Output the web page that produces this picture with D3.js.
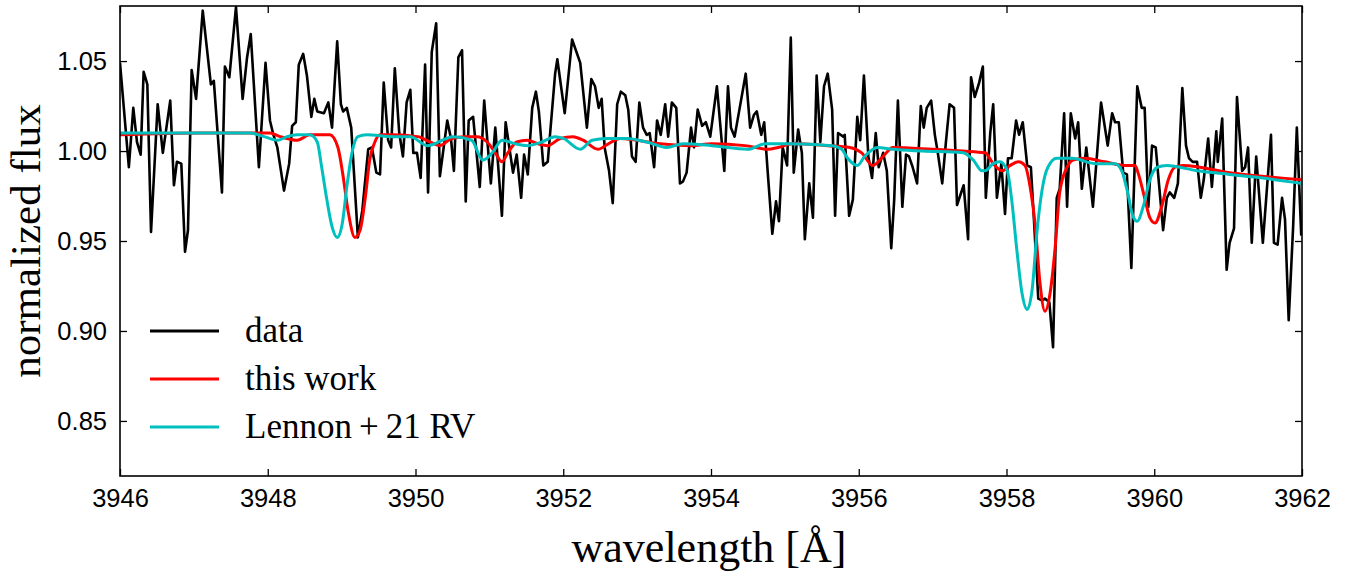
<!DOCTYPE html>
<html>
<head>
<style>
    body { margin: 0; background: #fff; }
    .tick-label { font-family: "Liberation Sans", Arial, sans-serif; font-size: 25.5px; }
    .serif { font-family: "Liberation Serif", "DejaVu Serif", serif; }
</style>
<script src="https://d3js.org/d3.v7.min.js"></script>
</head>
<body>
<svg width="1349" height="574"></svg>
<script>
    // observed spectrum (wavelength in A, normalized flux)
    var dataWave = [3946.00,3946.12,3946.18,3946.23,3946.28,3946.32,3946.37,3946.42,3946.51,3946.58,3946.68,3946.73,3946.77,3946.83,3946.88,3946.92,3946.97,3947.03,3947.12,3947.23,3947.27,3947.38,3947.42,3947.48,3947.57,3947.66,3947.72,3947.77,3947.88,3947.97,
        3948.03,3948.07,3948.13,3948.22,3948.29,3948.33,3948.38,3948.42,3948.48,3948.53,3948.59,3948.63,3948.67,3948.76,3948.82,3948.87,3948.94,3948.99,3949.02,3949.07,3949.13,3949.22,3949.28,3949.36,3949.41,3949.47,3949.52,3949.57,3949.63,3949.67,3949.72,3949.78,3949.83,3949.88,3949.93,
        3949.97,3950.02,3950.07,3950.13,3950.17,3950.22,3950.28,3950.33,3950.43,3950.48,3950.52,3950.58,3950.63,3950.68,3950.72,3950.78,3950.87,3950.93,3950.97,3951.02,3951.08,3951.17,3951.22,3951.32,3951.37,3951.43,3951.47,3951.52,3951.58,3951.63,3951.67,3951.73,3951.79,3951.89,
        3951.92,3952.02,3952.12,3952.23,3952.32,3952.38,3952.43,3952.48,3952.52,3952.56,3952.62,3952.67,3952.73,3952.78,3952.84,3952.88,3952.93,3952.98,3953.03,3953.08,3953.13,3953.17,3953.23,3953.27,3953.32,3953.38,3953.42,3953.47,3953.53,3953.58,3953.62,3953.67,3953.73,3953.77,3953.82,
        3953.88,3953.93,3953.99,3954.08,3954.18,3954.23,3954.27,3954.32,3954.47,3954.53,3954.58,3954.62,3954.68,3954.72,3954.77,3954.83,3954.88,3954.92,3954.97,3955.03,3955.08,3955.12,3955.18,3955.23,3955.27,3955.33,3955.38,3955.43,3955.48,3955.53,3955.58,3955.64,3955.68,3955.72,3955.79,
        3955.81,3955.87,3955.92,3955.98,3956.02,3956.07,3956.13,3956.18,3956.23,3956.27,3956.33,3956.38,3956.44,3956.48,3956.53,3956.59,3956.64,3956.68,3956.73,3956.79,3956.84,3956.88,3956.92,3956.98,3957.03,3957.07,3957.13,3957.18,3957.23,3957.29,3957.33,3957.42,3957.48,3957.52,3957.57,3957.63,3957.68,3957.72,3957.78,
        3957.82,3957.87,3957.93,3957.98,3958.02,3958.07,3958.13,3958.17,3958.22,3958.28,3958.33,3958.37,3958.43,3958.48,3958.52,3958.58,3958.63,3958.68,3958.72,3958.78,3958.82,3958.87,3958.93,3958.97,3959.02,3959.08,3959.17,3959.28,3959.37,3959.43,3959.47,3959.52,3959.58,3959.63,3959.69,
        3959.77,3959.83,3959.87,3959.92,3959.97,3960.02,3960.12,3960.17,3960.21,3960.27,3960.32,3960.38,3960.43,3960.47,3960.52,3960.58,3960.63,3960.67,3960.73,3960.78,3960.84,3960.86,3960.92,3960.98,3961.02,3961.08,3961.12,3961.19,3961.23,3961.27,3961.32,3961.38,3961.47,3961.58,3961.62,3961.67,3961.73,3961.77,3961.82,3961.88,3961.93,3961.99];
    var dataFlux = [1.049,0.991,1.024,1.005,0.998,1.044,1.037,0.955,1.026,0.999,1.028,0.981,0.994,0.993,0.944,0.956,1.045,1.029,1.078,1.037,1.039,0.977,1.047,1.041,1.080,1.029,1.052,1.065,0.991,1.049,
        1.017,1.010,1.002,0.978,0.993,1.014,1.016,1.048,1.054,1.042,1.019,1.029,1.022,1.021,1.027,1.013,1.061,1.026,1.022,1.024,1.013,0.952,0.967,1.001,1.002,0.988,0.987,1.038,1.006,1.002,1.046,1.010,0.997,1.027,1.034,
        0.999,0.999,0.985,1.048,0.977,1.055,1.071,0.986,1.017,1.007,0.989,1.052,1.056,0.972,1.017,1.019,0.980,1.028,1.007,0.982,1.013,0.964,1.016,0.988,0.998,0.974,0.998,0.987,1.024,1.033,1.022,0.992,0.994,1.043,
        1.051,1.021,1.062,1.049,1.013,1.040,1.036,1.024,1.029,1.002,0.989,0.971,1.026,1.033,1.031,1.023,0.997,0.994,1.027,1.013,1.009,1.010,0.991,1.017,1.009,1.026,1.008,1.027,1.024,0.982,0.983,0.988,1.013,1.002,1.023,
        1.014,1.016,1.008,1.036,0.989,1.036,1.013,1.008,1.043,1.013,1.020,1.022,1.009,1.016,0.987,0.954,0.972,0.961,1.002,0.992,1.063,0.988,1.012,0.999,0.951,0.982,0.963,1.042,1.005,1.036,1.043,1.023,0.964,1.010,1.008,
        1.009,0.964,0.973,1.019,1.006,1.042,0.997,0.985,1.010,0.991,0.999,0.989,0.946,0.973,1.028,0.969,0.998,0.997,0.991,0.982,1.025,1.013,1.024,1.028,1.009,0.999,0.982,1.005,1.026,1.024,0.970,0.981,0.951,1.041,1.030,1.038,1.047,0.974,1.010,
        1.026,0.974,0.993,0.965,0.996,0.996,1.017,1.009,1.016,0.992,0.991,0.963,0.918,0.917,0.918,0.916,0.891,0.974,0.979,1.021,0.969,1.021,1.007,1.016,0.979,1.002,0.969,1.027,1.003,1.021,1.016,1.016,0.988,0.987,0.935,
        1.036,1.024,1.024,0.969,1.003,1.002,0.956,0.974,0.977,0.974,0.982,1.035,1.003,0.996,0.994,0.994,0.974,0.984,1.007,0.980,1.011,0.994,1.018,0.934,0.949,0.957,1.030,0.989,0.991,1.002,0.949,0.997,0.949,1.009,0.949,0.948,0.974,0.962,0.906,0.958,1.013,0.953];

    // model: this work
    var workWave = [3946.00,3947.08,3947.90,3948.03,3948.17,3948.40,3948.57,3948.84,3948.95,3949.02,3949.09,3949.18,3949.25,3949.32,3949.38,3949.45,3949.52,3949.70,3950.03,3950.20,3950.33,3950.49,3950.67,3950.83,3950.97,3951.08,3951.17,3951.25,3951.37,3951.51,3951.66,3951.79,3951.96,3952.13,3952.27,3952.47,3952.61,3952.77,3953.00,3953.31,3953.72,3954.01,3954.46,3954.77,3954.91,3955.10,3955.58,3955.88,3956.04,3956.19,3956.33,3956.46,3957.00,3957.41,3957.71,3957.82,3957.94,3958.05,3958.16,3958.25,3958.32,3958.39,3958.45,3958.52,3958.59,3958.66,3958.72,3958.82,3958.90,3959.06,3959.33,3959.60,3959.74,3959.78,3959.87,3959.94,3960.01,3960.10,3960.19,3960.28,3960.39,3961.02,3962.00];
    var workFlux = [1.009,1.010,1.010,1.010,1.008,1.006,1.009,1.009,1.002,0.986,0.966,0.952,0.956,0.974,0.995,1.005,1.009,1.009,1.008,1.005,1.003,1.007,1.008,1.008,1.005,0.999,0.994,0.999,1.005,1.006,1.004,1.003,1.007,1.008,1.006,1.001,1.004,1.007,1.006,1.004,1.003,1.004,1.003,1.001,1.002,1.004,1.003,1.002,0.999,0.992,0.997,1.002,1.001,1.000,0.999,0.993,0.989,0.992,0.994,0.992,0.980,0.958,0.928,0.911,0.921,0.947,0.977,0.991,0.995,0.996,0.994,0.992,0.992,0.988,0.974,0.963,0.960,0.969,0.984,0.991,0.992,0.988,0.984];

    // model: Lennon+21 RV
    var lennonWave = [3946.00,3947.76,3947.95,3948.14,3948.26,3948.40,3948.57,3948.67,3948.73,3948.80,3948.87,3948.94,3949.01,3949.07,3949.14,3949.22,3949.34,3949.70,3949.93,3950.16,3950.51,3950.76,3950.91,3951.04,3951.17,3951.35,3951.52,3951.71,3951.89,3952.00,3952.23,3952.39,3952.59,3952.86,3953.13,3953.40,3953.62,3954.01,3954.50,3954.73,3955.04,3955.64,3955.77,3955.85,3955.98,3956.08,3956.25,3956.46,3956.87,3957.41,3957.55,3957.67,3957.71,3957.82,3957.91,3958.01,3958.07,3958.14,3958.21,3958.28,3958.35,3958.41,3958.48,3958.56,3958.68,3958.89,3959.20,3959.47,3959.56,3959.64,3959.71,3959.77,3959.85,3959.94,3960.04,3960.17,3960.58,3961.02,3961.47,3962.00];
    var lennonFlux = [1.010,1.010,1.008,1.006,1.008,1.009,1.009,1.005,0.991,0.973,0.958,0.952,0.960,0.980,0.999,1.008,1.009,1.008,1.008,1.003,1.008,1.006,0.995,0.999,1.006,1.004,1.003,1.005,1.008,1.007,1.001,1.006,1.007,1.007,1.005,1.002,1.004,1.003,1.001,1.004,1.004,1.003,1.001,0.996,0.992,0.997,1.002,1.001,1.000,0.999,0.995,0.989,0.989,0.993,0.994,0.989,0.973,0.945,0.921,0.912,0.924,0.954,0.978,0.991,0.996,0.996,0.993,0.993,0.989,0.977,0.964,0.961,0.969,0.984,0.991,0.992,0.989,0.987,0.985,0.982];

    var xTicks = [3946, 3948, 3950, 3952, 3954, 3956, 3958, 3960, 3962];
    var yTicks = [0.85, 0.90, 0.95, 1.00, 1.05];
    var legendNames = ["data", "this work", "Lennon\u2009+\u200921 RV"];
    var colors = ["#000000", "#ff0000", "#00bfbf"];

    var mLeft = 120, mRight = 1302, mTop = 6, mBottom = 476;
    var svg = d3.select("svg");

    var x = d3.scaleLinear().domain([3946, 3962]).range([mLeft, mRight]);
    var y = d3.scaleLinear().domain([0.8194, 1.0806]).range([mBottom, mTop]);

    svg.append("clipPath").attr("id", "clip")
        .append("rect").attr("x", mLeft).attr("y", mTop)
        .attr("width", mRight - mLeft).attr("height", mBottom - mTop);

    var plot = svg.append("g").attr("clip-path", "url(#clip)");

    function series(w, f) {
        return w.map(function (d, i) { return [d, f[i]]; });
    }

    var lineLin = d3.line().x(function (d) { return x(d[0]); }).y(function (d) { return y(d[1]); });
    var lineSmooth = d3.line().curve(d3.curveMonotoneX)
        .x(function (d) { return x(d[0]); }).y(function (d) { return y(d[1]); });

    plot.append("path").datum(series(dataWave, dataFlux))
        .attr("d", lineLin).attr("fill", "none").attr("stroke", colors[0])
        .attr("stroke-width", 2.6).attr("stroke-linejoin", "round");
    plot.append("path").datum(series(workWave, workFlux))
        .attr("d", lineSmooth).attr("fill", "none").attr("stroke", colors[1]).attr("stroke-width", 3);
    plot.append("path").datum(series(lennonWave, lennonFlux))
        .attr("d", lineSmooth).attr("fill", "none").attr("stroke", colors[2]).attr("stroke-width", 3);

    // axes with inward ticks on all four sides
    var fmtY = d3.format(".2f");
    svg.append("g").attr("transform", "translate(0," + mBottom + ")")
        .call(d3.axisBottom(x).tickValues(xTicks).tickSize(-7).tickPadding(13).tickFormat(d3.format("d")));
    svg.append("g").attr("transform", "translate(0," + mTop + ")")
        .call(d3.axisTop(x).tickValues(xTicks).tickSize(-7).tickFormat(""));
    svg.append("g").attr("transform", "translate(" + mLeft + ",0)")
        .call(d3.axisLeft(y).tickValues(yTicks).tickSize(-7).tickPadding(13).tickFormat(fmtY));
    svg.append("g").attr("transform", "translate(" + mRight + ",0)")
        .call(d3.axisRight(y).tickValues(yTicks).tickSize(-7).tickFormat(""));

    svg.selectAll(".domain").remove();
    svg.selectAll(".tick line").attr("stroke", "#000").attr("stroke-width", 1.3);
    svg.selectAll(".tick text").attr("class", "tick-label").attr("fill", "#000");

    svg.append("rect").attr("x", mLeft).attr("y", mTop)
        .attr("width", mRight - mLeft).attr("height", mBottom - mTop)
        .attr("fill", "none").attr("stroke", "#000").attr("stroke-width", 1.6);

    // axis titles
    svg.append("text").attr("class", "serif")
        .attr("x", (mLeft + mRight) / 2 - 2).attr("y", 562)
        .attr("text-anchor", "middle").attr("font-size", 44)
        .text("wavelength [\u00c5]");
    svg.append("text").attr("class", "serif")
        .attr("transform", "translate(40," + ((mTop + mBottom) / 2) + ") rotate(-90)")
        .attr("text-anchor", "middle").attr("font-size", 43)
        .text("normalized flux");

    // legend
    var legend = svg.append("g").selectAll("g").data(legendNames).enter().append("g")
        .attr("transform", function (d, i) { return "translate(150," + (331 + i * 48) + ")"; });
    legend.append("line").attr("x1", 0).attr("x2", 69)
        .attr("stroke", function (d, i) { return colors[i]; }).attr("stroke-width", 3);
    legend.append("text").attr("class", "serif")
        .attr("x", 95).attr("y", 11).attr("font-size", 35)
        .text(function (d) { return d; });
</script>
</body>
</html>
